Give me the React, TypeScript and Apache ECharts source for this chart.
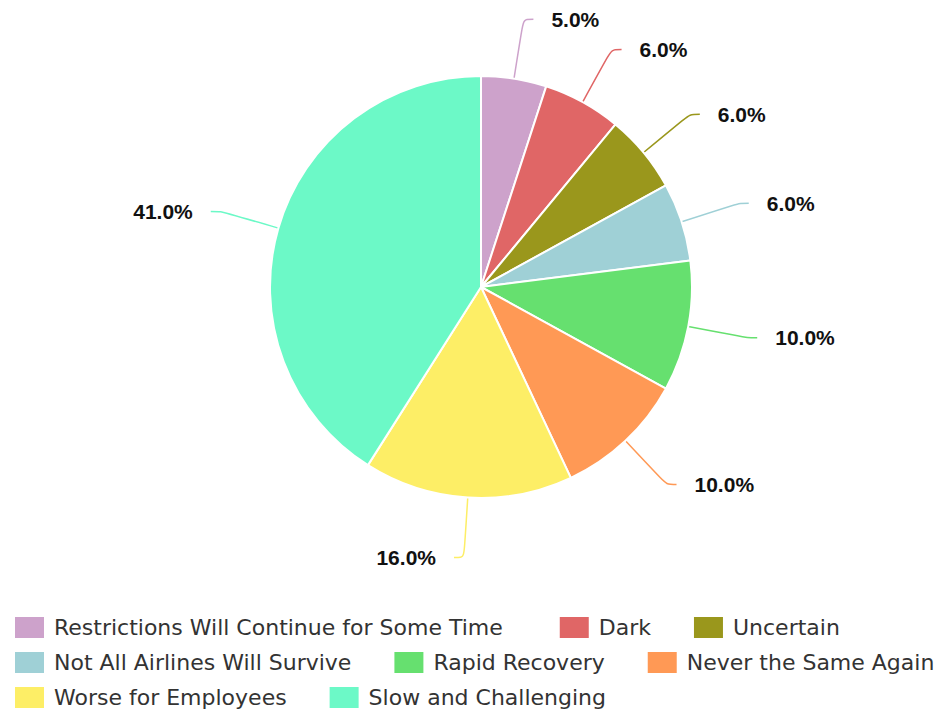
import React, { useEffect, useRef } from "react";
import * as echarts from "echarts";

const categories = [
  "Restrictions Will Continue for Some Time",
  "Dark",
  "Uncertain",
  "Not All Airlines Will Survive",
  "Rapid Recovery",
  "Never the Same Again",
  "Worse for Employees",
  "Slow and Challenging",
];
const values = [5, 6, 6, 6, 10, 10, 16, 41];
const colors = ["#cda2cb", "#e06666", "#9a971c", "#9fd0d6", "#66e06f", "#ff9955", "#fdee66", "#6cf9c7"];
const legendRows = [
  ["Restrictions Will Continue for Some Time", "Dark", "Uncertain"],
  ["Not All Airlines Will Survive", "Rapid Recovery", "Never the Same Again"],
  ["Worse for Employees", "Slow and Challenging"],
];

export default function App() {
  const ref = useRef<HTMLDivElement>(null);
  useEffect(() => {
    if (!ref.current) return;
    const chart = echarts.init(ref.current, undefined, { renderer: "svg" });
    const rowTops = [615, 650, 685];
    chart.setOption({
      animation: false,
      color: colors,
      legend: legendRows.map((row, i) => ({
        data: row.map((name, j) =>
          i === 0 && j === 0
            ? { name, textStyle: { padding: [0, 14, 0, 4] } }
            : { name }
        ),
        left: 13,
        top: rowTops[i],
        orient: "horizontal",
        itemWidth: 31,
        itemHeight: 23,
        itemGap: 41,
        icon: "rect",
        padding: 0,
        textStyle: {
          fontFamily: "DejaVu Sans",
          fontSize: 22,
          color: "#333",
          lineHeight: 23,
          padding: [0, 0, 0, 4],
        },
      })),
      series: [
        {
          type: "pie",
          center: [481, 287],
          radius: 211,
          startAngle: 90,
          clockwise: true,
          data: categories.map((name, i) => ({ name, value: values[i] })),
          itemStyle: { borderColor: "#fff", borderWidth: 2 },
          label: {
            show: true,
            formatter: (p: any) => p.percent.toFixed(1) + "%",
            fontFamily: "Liberation Sans",
            fontWeight: "bold",
            fontSize: 21,
            color: "#111",
            distanceToLabelLine: 18,
          },
          labelLine: {
            show: true,
            length: 60,
            length2: 10,
            smooth: true,
            lineStyle: { width: 1.5 },
          },
          emphasis: { disabled: true },
        },
      ],
    });
    return () => chart.dispose();
  }, []);
  return (
    <div
      ref={ref}
      style={{ position: "fixed", left: 0, top: 0, width: 948, height: 713, background: "#fff" }}
    />
  );
}
